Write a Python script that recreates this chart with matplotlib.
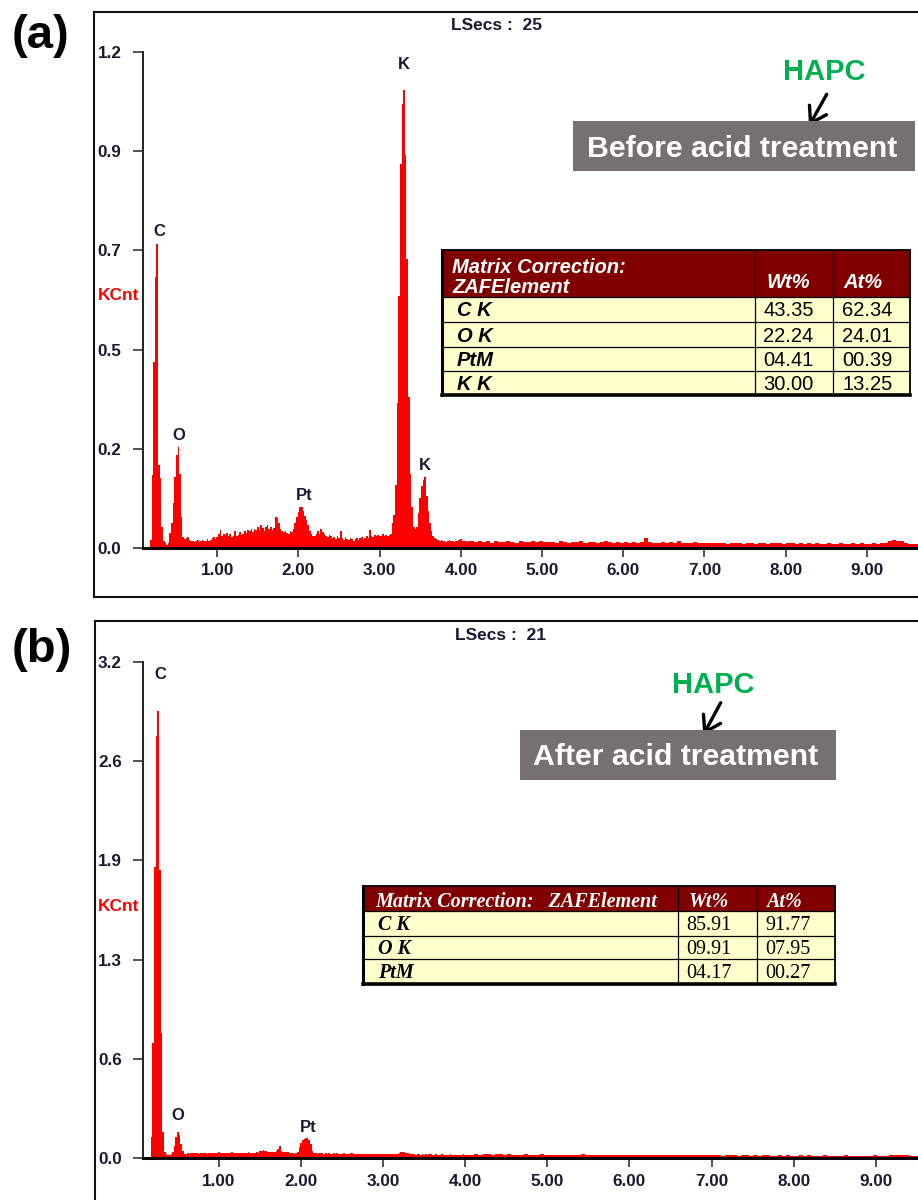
"""
eds_spectra.py
Two EDS spectra of HAPC (before / after acid treatment) with the
ZAF matrix-correction tables, drawn as channel histograms.
"""
import matplotlib
matplotlib.use("Agg")
import matplotlib.pyplot as plt
import numpy as np
from matplotlib.lines import Line2D
from matplotlib.patches import FancyArrowPatch, Rectangle

W, H = 918, 1200
OUT_PATH = "out.png"

SANS = ["Liberation Sans", "DejaVu Sans"]
SERIF = ["Liberation Serif", "DejaVu Serif"]
plt.rcParams["font.family"] = SANS

RED = "#ff0000"
INK = "#1a1a33"
GREEN = "#00b050"
BOX_GREY = "#767171"
HEADER_RED = "#800000"
CELL_YELLOW = "#ffffcc"

# Channel edges (keV): 0.02 keV channels up to 4.11 keV, 0.05 keV channels after
EDGES = np.concatenate([np.linspace(0.09, 4.11, 202), np.linspace(4.16, 9.66, 111)])

XTICKS = [1, 2, 3, 4, 5, 6, 7, 8, 9]
XTICK_LABELS = ["1.00", "2.00", "3.00", "4.00", "5.00", "6.00", "7.00", "8.00", "9.00"]

# ---- panel (a): before acid treatment --------------------------------------
A_YTICKS = [0.0, 0.24, 0.48, 0.72, 0.96, 1.2]
A_YLABELS = ["0.0", "0.2", "0.5", "0.7", "0.9", "1.2"]

# 0.10 - 0.68 keV (C and O lines)
A_COUNTS_CO = [
    0, 0, 0, 0, 0.02, 0.176, 0.45, 0.656, 0.735, 0.20,
    0.17, 0.05, 0.018, 0.012, 0.008, 0.012, 0.036, 0.06, 0.11, 0.172,
    0.225, 0.245, 0.18, 0.076, 0.027, 0.022, 0.025, 0.026, 0.02, 0.018,
]
# 0.70 - 3.08 keV (continuum, Pt M)
A_COUNTS_MID = [
    0.018, 0.014, 0.016, 0.019, 0.015, 0.017, 0.02, 0.016, 0.018, 0.022,
    0.017, 0.02, 0.024, 0.027, 0.022, 0.026, 0.035, 0.044, 0.03, 0.034,
    0.032, 0.036, 0.03, 0.033, 0.026, 0.03, 0.04, 0.028, 0.032, 0.038,
    0.031, 0.034, 0.04, 0.036, 0.043, 0.04, 0.045, 0.038, 0.047, 0.043,
    0.05, 0.044, 0.055, 0.048, 0.042, 0.052, 0.056, 0.045, 0.05, 0.044,
    0.048, 0.075, 0.072, 0.06, 0.045, 0.04, 0.038, 0.042, 0.036, 0.034,
    0.04, 0.038, 0.045, 0.06, 0.075, 0.088, 0.098, 0.10, 0.09, 0.078,
    0.068, 0.055, 0.042, 0.035, 0.03, 0.028, 0.034, 0.04, 0.035, 0.046,
    0.038, 0.034, 0.03, 0.026, 0.032, 0.028, 0.024, 0.027, 0.022, 0.03,
    0.025, 0.04, 0.023, 0.02, 0.026, 0.022, 0.019, 0.024, 0.021, 0.018,
    0.022, 0.025, 0.02, 0.023, 0.026, 0.021, 0.024, 0.028, 0.025, 0.044,
    0.03, 0.027, 0.032, 0.029, 0.031, 0.028, 0.03, 0.033, 0.029, 0.031,
]
# 3.10 - 4.10 keV (K Ka / Kb)
A_COUNTS_K = [
    0.03, 0.032, 0.035, 0.06, 0.08, 0.152, 0.35, 0.61, 0.93, 1.075,
    1.107, 0.95, 0.70, 0.366, 0.18, 0.10, 0.05, 0.045, 0.05, 0.085,
    0.12, 0.15, 0.165, 0.172, 0.125, 0.09, 0.06, 0.04, 0.03, 0.025,
    0.022, 0.02, 0.018, 0.02, 0.016, 0.018, 0.015, 0.017, 0.019, 0.016,
    0.018, 0.015, 0.017, 0.016, 0.019, 0.022, 0.018, 0.016, 0.017, 0.015,
    0.016,
]
# 4.11 - 9.66 keV, 0.05 keV channels
A_COUNTS_TAIL = [
    0.016, 0.014, 0.017, 0.015, 0.018, 0.013, 0.016, 0.015, 0.014, 0.017,
    0.015, 0.013, 0.016, 0.014, 0.015, 0.017, 0.014, 0.016, 0.015, 0.014,
    0.015, 0.013, 0.016, 0.014, 0.013, 0.015, 0.014, 0.016, 0.013, 0.014,
    0.015, 0.013, 0.014, 0.016, 0.015, 0.013, 0.014, 0.012, 0.015, 0.013,
    0.014, 0.013, 0.015, 0.024, 0.014, 0.012, 0.013, 0.015, 0.012, 0.014,
    0.013, 0.016, 0.012, 0.013, 0.011, 0.014, 0.012, 0.013, 0.011, 0.012,
    0.013, 0.011, 0.012, 0.01, 0.013, 0.011, 0.012, 0.01, 0.011, 0.013,
    0.01, 0.012, 0.011, 0.01, 0.012, 0.011, 0.013, 0.01, 0.011, 0.012,
    0.01, 0.011, 0.009, 0.012, 0.01, 0.011, 0.009, 0.01, 0.012, 0.01,
    0.009, 0.011, 0.01, 0.009, 0.011, 0.01, 0.012, 0.01, 0.009, 0.011,
    0.01, 0.012, 0.011, 0.017, 0.019, 0.018, 0.016, 0.012, 0.01, 0.009,
    0.01,
]
# peak name, energy (keV), label offset from peak top (px)
A_PEAKS = [("C", 0.26, 2, 8), ("O", 0.52, 0, 7), ("Pt", 2.04, 3, 7),
           ("K", 3.30, 0, 21), ("K", 3.56, 0, 7)]
A_LSECS = "LSecs :  25"
A_TITLE = "Before acid treatment"
A_HEAD = ["Matrix Correction:", "ZAFElement"]
A_ELEMENTS = ["C K", "O K", "PtM", "K K"]
A_WT = ["43.35", "22.24", "04.41", "30.00"]
A_AT = ["62.34", "24.01", "00.39", "13.25"]

# ---- panel (b): after acid treatment ---------------------------------------
B_YTICKS = [0.0, 0.64, 1.28, 1.92, 2.56, 3.2]
B_YLABELS = ["0.0", "0.6", "1.3", "1.9", "2.6", "3.2"]

B_COUNTS_CO = [
    0, 0, 0, 0, 0.14, 0.74, 1.88, 2.72, 2.88, 1.86,
    0.81, 0.17, 0.04, 0.025, 0.02, 0.02, 0.025, 0.04, 0.08, 0.14,
    0.171, 0.15, 0.09, 0.05, 0.025, 0.03, 0.035, 0.03, 0.033, 0.036,
]
B_COUNTS_MID = [
    0.034, 0.032, 0.036, 0.03, 0.033, 0.035, 0.031, 0.034, 0.03, 0.033,
    0.035, 0.032, 0.034, 0.036, 0.031, 0.04, 0.035, 0.033, 0.037, 0.034,
    0.036, 0.033, 0.035, 0.038, 0.034, 0.036, 0.032, 0.035, 0.037, 0.034,
    0.036, 0.033, 0.035, 0.038, 0.036, 0.034, 0.037, 0.035, 0.039, 0.036,
    0.05, 0.048, 0.055, 0.045, 0.05, 0.04, 0.038, 0.042, 0.04, 0.043,
    0.045, 0.06, 0.08, 0.05, 0.042, 0.04, 0.038, 0.042, 0.036, 0.035,
    0.033, 0.03, 0.035, 0.04, 0.07, 0.10, 0.115, 0.125, 0.13, 0.128,
    0.12, 0.09, 0.05, 0.035, 0.033, 0.03, 0.034, 0.031, 0.033, 0.03,
    0.032, 0.029, 0.031, 0.028, 0.03, 0.032, 0.029, 0.031, 0.028, 0.03,
    0.029, 0.031, 0.027, 0.03, 0.028, 0.032, 0.036, 0.03, 0.028, 0.027,
    0.029, 0.026, 0.028, 0.027, 0.03, 0.026, 0.028, 0.025, 0.027, 0.029,
    0.026, 0.028, 0.025, 0.027, 0.029, 0.026, 0.028, 0.025, 0.027, 0.026,
]
B_COUNTS_K = [
    0.028, 0.025, 0.027, 0.026, 0.03, 0.035, 0.038, 0.04, 0.038, 0.036,
    0.035, 0.03, 0.027, 0.025, 0.026, 0.024, 0.027, 0.025, 0.023, 0.026,
    0.024, 0.026, 0.023, 0.025, 0.027, 0.024, 0.022, 0.025, 0.023, 0.024,
    0.022, 0.025, 0.023, 0.021, 0.024, 0.022, 0.025, 0.023, 0.021, 0.024,
    0.022, 0.024, 0.021, 0.023, 0.025, 0.022, 0.02, 0.023, 0.021, 0.022,
    0.023,
]
B_COUNTS_TAIL = [
    0.026, 0.024, 0.027, 0.025, 0.023, 0.026, 0.028, 0.024, 0.025, 0.023,
    0.022, 0.024, 0.026, 0.023, 0.022, 0.024, 0.025, 0.023, 0.022, 0.024,
    0.023, 0.022, 0.024, 0.021, 0.022, 0.023, 0.028, 0.024, 0.022, 0.021,
    0.023, 0.022, 0.024, 0.021, 0.022, 0.023, 0.021, 0.022, 0.024, 0.021,
    0.022, 0.02, 0.021, 0.023, 0.02, 0.022, 0.021, 0.019, 0.022, 0.02,
    0.021, 0.023, 0.02, 0.019, 0.021, 0.022, 0.02, 0.019, 0.021, 0.02,
    0.018, 0.021, 0.019, 0.02, 0.018, 0.02, 0.019, 0.017, 0.02, 0.018,
    0.019, 0.021, 0.018, 0.017, 0.019, 0.018, 0.02, 0.017, 0.018, 0.019,
    0.017, 0.019, 0.018, 0.016, 0.018, 0.019, 0.017, 0.016, 0.018, 0.017,
    0.019, 0.016, 0.018, 0.017, 0.016, 0.018, 0.017, 0.019, 0.016, 0.018,
    0.017, 0.02, 0.022, 0.024, 0.021, 0.019, 0.018, 0.017, 0.016, 0.017,
    0.016,
]
B_PEAKS = [("C", 0.26, 2, 32), ("O", 0.50, 0, 12), ("Pt", 2.06, 2, 6)]
B_LSECS = "LSecs :  21"
B_TITLE = "After acid treatment"
B_HEAD = ["Matrix Correction:   ZAFElement"]
B_ELEMENTS = ["C K", "O K", "PtM"]
B_WT = ["85.91", "09.91", "04.17"]
B_AT = ["91.77", "07.95", "00.27"]


def fig_text(fig, x, y, s, **kw):
    return fig.text(x / W, 1 - y / H, s, **kw)


def fig_rect(fig, x0, y0, x1, y1, **kw):
    rect = Rectangle((x0 / W, 1 - y1 / H), (x1 - x0) / W, (y1 - y0) / H,
                     transform=fig.transFigure, **kw)
    fig.add_artist(rect)


def fig_line(fig, x0, y0, x1, y1, **kw):
    fig.add_artist(Line2D([x0 / W, x1 / W], [1 - y0 / H, 1 - y1 / H],
                          transform=fig.transFigure, **kw))


def draw_spectrum(fig, box, xlim, counts, yticks, ylabels, peaks):
    left, top, right, bottom = box
    ax = fig.add_axes([left / W, 1 - bottom / H, (right - left) / W, (bottom - top) / H])
    ax.patch.set_alpha(0)
    ax.stairs(counts, EDGES, fill=True, color=RED, linewidth=0)
    ax.set_xlim(*xlim)
    ax.set_ylim(yticks[0], yticks[-1])
    ax.set_xticks(XTICKS, XTICK_LABELS, fontweight="bold")
    ax.set_yticks(yticks, ylabels, fontweight="bold")
    ax.tick_params(axis="both", labelsize=12.3, labelcolor=INK, color="#222222", width=1.1)
    ax.tick_params(axis="y", length=7.2, pad=8.4)
    ax.tick_params(axis="x", length=6.5, pad=4.5)
    for side in ("top", "right"):
        ax.spines[side].set_visible(False)
    ax.spines["left"].set_linewidth(1.4)
    ax.spines["left"].set_color("#222222")
    ax.spines["bottom"].set_linewidth(2.2)
    ax.spines["bottom"].set_color("black")

    centers = 0.5 * (EDGES[:-1] + EDGES[1:])
    for name, energy, dx, dy in peaks:
        i = int(np.argmin(np.abs(centers - energy)))
        ax.annotate(name, xy=(energy, counts[i]), xytext=(dx * 0.72, dy * 0.72),
                    textcoords="offset points", ha="center", va="baseline",
                    fontsize=12, fontweight="bold", color=INK)
    return ax


def draw_table(fig, cols, rows_y, head, head_y, head_num_y, elements, wt, at,
               family, size, pads):
    x0, x1 = cols[0], cols[-1]
    y0, y1 = rows_y[0], rows_y[-1]
    fig_rect(fig, x0, y0, x1, rows_y[1], facecolor=HEADER_RED, edgecolor="none")
    fig_rect(fig, x0, rows_y[1], x1, y1, facecolor=CELL_YELLOW, edgecolor="none")
    for y in rows_y[1:-1]:
        fig_line(fig, x0, y, x1, y, color="black", linewidth=0.9)
    for x in cols[1:-1]:
        fig_line(fig, x, y0, x, y1, color="black", linewidth=0.9)
    fig_rect(fig, x0, y0, x1, y1, fill=False, edgecolor="black", linewidth=1.3)
    fig_line(fig, x0, y1, x1, y1, color="black", linewidth=2.6)
    fig_line(fig, x0, y0, x0, y1, color="black", linewidth=2.2)

    head_pad, elem_pad, num_head_pads, num_pads, row_base = pads
    for line, y in zip(head, head_y):
        fig_text(fig, x0 + head_pad, y, line, color="white", fontsize=size,
                 fontweight="bold", fontstyle="italic", family=family, va="baseline")
    for col, label, pad in zip(cols[1:3], ["Wt%", "At%"], num_head_pads):
        fig_text(fig, col + pad, head_num_y, label, color="white", fontsize=size,
                 fontweight="bold", fontstyle="italic", family=family, va="baseline")
    for k, (el, w, a) in enumerate(zip(elements, wt, at)):
        yb = rows_y[k + 1] + row_base
        fig_text(fig, x0 + elem_pad, yb, el, color="black", fontsize=size,
                 fontweight="bold", fontstyle="italic", family=family, va="baseline")
        fig_text(fig, cols[1] + num_pads[0], yb, w, color="black", fontsize=size,
                 family=family, va="baseline")
        fig_text(fig, cols[2] + num_pads[1], yb, a, color="black", fontsize=size,
                 family=family, va="baseline")


def draw_callout(fig, hapc_xy, arrow, box, title_xy, title):
    fig_text(fig, hapc_xy[0], hapc_xy[1], "HAPC", color=GREEN, fontsize=21,
             fontweight="bold", va="baseline")
    (ax0, ay0), (ax1, ay1) = arrow
    fig.add_artist(FancyArrowPatch(
        (ax0 / W, 1 - ay0 / H), (ax1 / W, 1 - ay1 / H), transform=fig.transFigure,
        arrowstyle="->,head_length=0.55,head_width=0.35", mutation_scale=20,
        linewidth=2.4, color="black", shrinkA=0, shrinkB=0))
    fig_rect(fig, *box, facecolor=BOX_GREY, edgecolor="none")
    fig_text(fig, title_xy[0], title_xy[1], title, color="white", fontsize=21.8,
             fontweight="bold", va="baseline")


def main() -> None:
    fig = plt.figure(figsize=(W / 100, H / 100), dpi=100)
    fig.patch.set_facecolor("white")

    counts_a = np.array(A_COUNTS_CO + A_COUNTS_MID + A_COUNTS_K + A_COUNTS_TAIL)
    counts_b = np.array(B_COUNTS_CO + B_COUNTS_MID + B_COUNTS_K + B_COUNTS_TAIL)

    # panel frames
    fig_line(fig, 93.5, 12, 93.5, 597, color="#111111", linewidth=1.5)
    fig_line(fig, 93.5, 12, 918, 12, color="#111111", linewidth=1.5)
    fig_line(fig, 93.5, 597, 918, 597, color="#111111", linewidth=1.5)
    fig_line(fig, 94.5, 621, 94.5, 1200, color="#111111", linewidth=1.5)
    fig_line(fig, 94.5, 621, 918, 621, color="#111111", linewidth=1.5)

    # (a) before acid treatment
    draw_spectrum(fig, (143, 52, 918, 548), (0.085, 9.63), counts_a,
                  A_YTICKS, A_YLABELS, A_PEAKS)
    fig_text(fig, 41, 47.5, "(a)", fontsize=34, fontweight="bold", ha="center", va="baseline")
    fig_text(fig, 451, 30.5, A_LSECS, fontsize=12.5, fontweight="bold", color=INK, va="baseline")
    fig_text(fig, 97.5, 300, "KCnt", fontsize=12.5, fontweight="bold", color=RED, va="baseline")
    draw_callout(fig, (783, 80), ((826.7, 94.3), (809, 126)), (573, 121, 915, 171),
                 (587, 156.7), A_TITLE)
    draw_table(fig, [442, 755, 833, 910], [250, 297, 322, 347, 371, 395],
               A_HEAD, [273.3, 292.7], 288, A_ELEMENTS, A_WT, A_AT, SANS, 14.5,
               (10, 15, (11.7, 10.3), (8.3, 9.3), 19.5))

    # (b) after acid treatment
    draw_spectrum(fig, (143.3, 661.7, 918, 1158.3), (0.078, 9.514), counts_b,
                  B_YTICKS, B_YLABELS, B_PEAKS)
    fig_text(fig, 42, 662, "(b)", fontsize=34, fontweight="bold", ha="center", va="baseline")
    fig_text(fig, 455.3, 640, B_LSECS, fontsize=12.5, fontweight="bold", color=INK, va="baseline")
    fig_text(fig, 97.5, 911, "KCnt", fontsize=12.5, fontweight="bold", color=RED, va="baseline")
    draw_callout(fig, (672, 693.3), ((720.7, 702.7), (703.3, 735)), (520, 730, 836, 780),
                 (532.7, 765), B_TITLE)
    draw_table(fig, [363, 678, 757, 835], [886, 911, 936, 959, 984],
               B_HEAD, [906.7], 906.7, B_ELEMENTS, B_WT, B_AT, SERIF, 14.5,
               (12, 14.7, (10.3, 8.7), (8.7, 8.0), 18.5))

    fig.savefig(OUT_PATH, dpi=100)
    plt.close(fig)


if __name__ == "__main__":
    main()
